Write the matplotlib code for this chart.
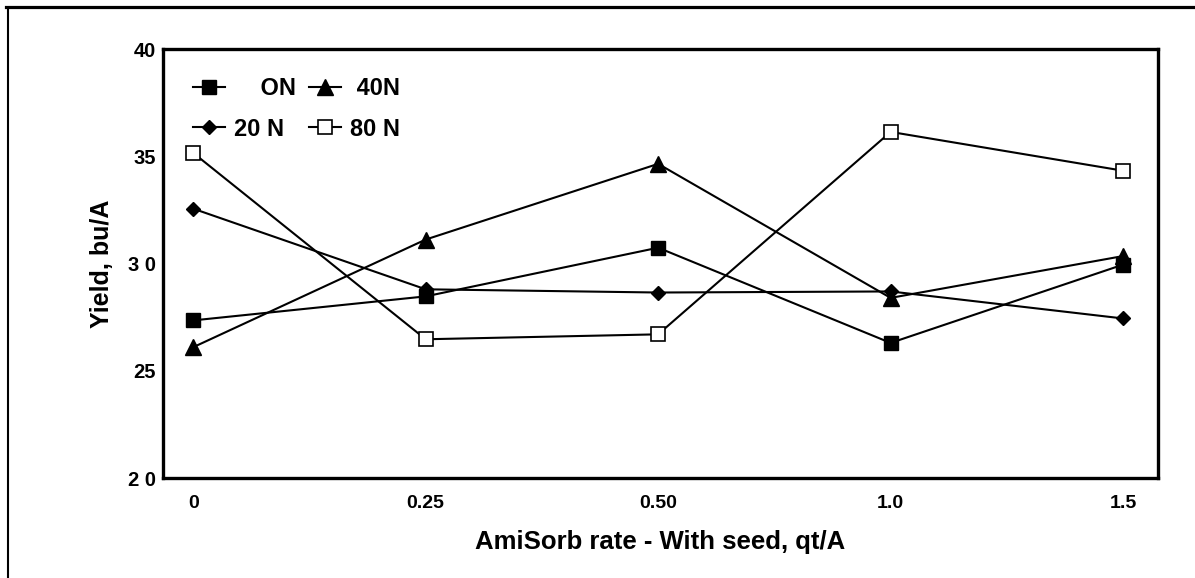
import matplotlib
matplotlib.use('Agg')
import matplotlib.pyplot as plt
from matplotlib.lines import Line2D

plt.rcParams['font.family'] = ['Liberation Sans', 'DejaVu Sans']
plt.rcParams['font.weight'] = 'bold'

rates = ['0', '0.25', '0.50', '1.0', '1.5']
yield_0n = [27.35, 28.47, 30.74, 26.3, 29.95]
yield_20n = [32.56, 28.8, 28.65, 28.7, 27.44]
yield_40n = [26.1, 31.12, 34.65, 28.4, 30.35]
yield_80n = [35.16, 26.47, 26.7, 36.14, 34.33]
ytick_vals = [20, 25, 30, 35, 40]
ytick_labels = ['2 0', '25', '3 0', '35', '40']

fig = plt.figure(figsize=(11.95, 5.78), dpi=100)
ax = fig.add_axes([0.1364, 0.173, 0.8326, 0.742])

x = range(len(rates))
lw = 1.5
ax.plot(x, yield_0n, color='k', lw=lw, marker='s', ms=10.5, mfc='k', mec='k',
        label='    ON')
ax.plot(x, yield_20n, color='k', lw=lw, marker='D', ms=7.5, mfc='k', mec='k',
        label='20 N')
ax.plot(x, yield_40n, color='k', lw=lw, marker='^', ms=11, mfc='k', mec='k',
        label=' 40N')
ax.plot(x, yield_80n, color='k', lw=lw, marker='s', ms=10.5, mfc='white', mec='k',
        mew=1.2, label='80 N')

ax.set_xlim(-0.13, 4.15)
ax.set_ylim(20, 40)
ax.set_xticks(list(x))
ax.set_xticklabels(rates)
ax.set_yticks(ytick_vals)
ax.set_yticklabels(ytick_labels)
ax.tick_params(axis='x', length=0, pad=12, labelsize=14)
ax.tick_params(axis='y', length=0, pad=5, labelsize=14.5)

for s in ax.spines.values():
    s.set_linewidth(2.4)

ax.set_xlabel('AmiSorb rate - With seed, qt/A', fontsize=18.5, fontweight='bold',
              labelpad=13)
ax.set_ylabel('Yield, bu/A', fontsize=18, fontweight='bold', labelpad=10)

ax.legend(loc='upper left', bbox_to_anchor=(0.03, 0.935), ncol=2, frameon=False,
          borderaxespad=0, borderpad=0, fontsize=17, handlelength=1.35,
          handletextpad=0.4, columnspacing=0.55, labelspacing=0.75)

# outer frame lines from the scanned page
fig.add_artist(Line2D([0.005, 1.0], [0.988, 0.988], color='k', lw=2.3))
fig.add_artist(Line2D([0.0067, 0.0067], [0.0, 0.983], color='k', lw=1.5))

fig.savefig('out.png', dpi=100)
